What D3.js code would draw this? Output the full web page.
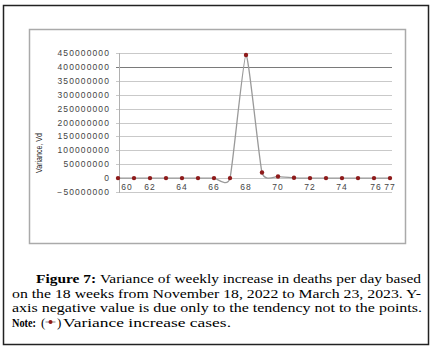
<!DOCTYPE html>
<html lang="en">
<head>
<meta charset="UTF-8">
<script src="https://d3js.org/d3.v7.min.js"></script>
<style>
    body { margin: 0; background: #fff; }
    svg { display: block; }
    .cap { font-family: "Liberation Serif", "Times New Roman", serif; font-size: 13px; fill: #000; }
    .tick { font-family: "Liberation Sans", Arial, sans-serif; font-size: 8.5px; fill: #444; }
</style>
</head>
<body>
<div id="chart"></div>
<script>
// data: week number and variance of weekly increase
var weeks = [60, 61, 62, 63, 64, 65, 66, 67, 68, 69, 70, 71, 72, 73, 74, 75, 76, 77];
var variance = [0, 0, 0, 0, 0, 0, 0, 0, 443000000, 20000000, 6000000, 1000000, 0, 0, 0, 0, 0, 0];
var xTicks = [60, 62, 64, 66, 68, 70, 72, 74, 76, 77];
var yTicks = [-50000000, 0, 50000000, 100000000, 150000000, 200000000, 250000000, 300000000, 350000000, 400000000, 450000000];

var W = 436, H = 353;
var svg = d3.select("#chart").append("svg")
    .attr("width", W)
    .attr("height", H);

// outer frame + inner chart frame
svg.append("rect")
    .attr("x", 3.5).attr("y", 5.5).attr("width", 425).attr("height", 339)
    .attr("fill", "none").attr("stroke", "#222").attr("stroke-width", 1.5);
svg.append("rect")
    .attr("x", 29.5).attr("y", 29.5).attr("width", 376).attr("height", 214)
    .attr("fill", "none").attr("stroke", "#aaa").attr("stroke-width", 1.5);

var x = d3.scaleLinear().domain([60, 77]).range([118, 390]);
var y = d3.scaleLinear().domain([-50000000, 450000000]).range([192, 53]);

var g = svg.append("g");

// gridlines
g.selectAll("line.grid")
    .data(yTicks)
    .enter().append("line")
    .attr("class", "grid")
    .attr("x1", 116).attr("x2", 392)
    .attr("y1", function(d) { return Math.round(y(d)) + 0.5; })
    .attr("y2", function(d) { return Math.round(y(d)) + 0.5; })
    .attr("stroke", function(d) { return d === 400000000 ? "#7a7a7a" : "#c9c9c9"; })
    .attr("stroke-width", 1);

// y axis line
g.append("line")
    .attr("x1", 119.5).attr("x2", 119.5)
    .attr("y1", y(450000000)).attr("y2", y(-50000000) + 1)
    .attr("stroke", "#b0b0b0");

// y tick labels
g.selectAll("text.ytick")
    .data(yTicks)
    .enter().append("text")
    .attr("class", "tick")
    .attr("x", 110)
    .attr("y", function(d) { return y(d) + 3; })
    .attr("text-anchor", "end")
    .style("letter-spacing", "1.1px")
    .text(function(d) { return d3.format("d")(d); });

// x tick labels
g.selectAll("text.xtick")
    .data(xTicks)
    .enter().append("text")
    .attr("class", "tick")
    .attr("x", function(d) { return x(d) + (d === 60 ? 9 : d === 76 ? 2 : 0); })
    .attr("y", 190)
    .attr("text-anchor", "middle")
    .style("letter-spacing", "1px")
    .text(function(d) { return d; });

// y axis title
svg.append("text")
    .attr("transform", "translate(42,153) rotate(-90)")
    .attr("text-anchor", "middle")
    .attr("textLength", 40)
    .attr("lengthAdjust", "spacingAndGlyphs")
    .attr("font-family", "Liberation Sans Narrow, Arial Narrow, Liberation Sans, sans-serif")
    .attr("font-size", "9px")
    .attr("fill", "#222")
    .text("Variance, Vd");

// line + markers
var line = d3.line()
    .x(function(d, i) { return x(weeks[i]); })
    .y(function(d) { return y(d); })
    .curve(d3.curveCardinal.tension(0.5));

g.append("path")
    .datum(variance)
    .attr("d", line)
    .attr("fill", "none")
    .attr("stroke", "#9a9a9a")
    .attr("stroke-width", 1.3);

g.selectAll("circle.pt")
    .data(variance)
    .enter().append("circle")
    .attr("cx", function(d, i) { return x(weeks[i]); })
    .attr("cy", function(d) { return y(d); })
    .attr("r", 2.2)
    .attr("fill", "#8e1b1b");

// caption (the original is stretched sideways, so glyphs get stretched too)
var l1 = svg.append("text")
    .attr("class", "cap")
    .attr("x", 36).attr("y", 283)
    .attr("textLength", 385).attr("lengthAdjust", "spacingAndGlyphs");
l1.append("tspan").attr("font-weight", "bold").text("Figure 7: ");
l1.append("tspan").text("Variance of weekly increase in deaths per day based");

svg.append("text")
    .attr("class", "cap")
    .attr("x", 12).attr("y", 297.5)
    .attr("textLength", 409).attr("lengthAdjust", "spacingAndGlyphs")
    .text("on the 18 weeks from November 18, 2022 to March 23, 2023. Y-");

svg.append("text")
    .attr("class", "cap")
    .attr("x", 12).attr("y", 312)
    .attr("textLength", 410).attr("lengthAdjust", "spacingAndGlyphs")
    .text("axis negative value is due only to the tendency not to the points.");

svg.append("text")
    .attr("class", "cap")
    .attr("x", 12).attr("y", 326.5)
    .attr("font-weight", "bold")
    .attr("textLength", 24).attr("lengthAdjust", "spacingAndGlyphs")
    .text("Note:");
svg.append("text")
    .attr("class", "cap")
    .attr("x", 41).attr("y", 326.5)
    .text("(");
svg.append("line")
    .attr("x1", 45.5).attr("x2", 55.5).attr("y1", 322).attr("y2", 322)
    .attr("stroke", "#999").attr("stroke-width", 1.2);
svg.append("circle")
    .attr("cx", 50.5).attr("cy", 322).attr("r", 2)
    .attr("fill", "#8e1b1b");
svg.append("text")
    .attr("class", "cap")
    .attr("x", 57).attr("y", 326.5)
    .text(")");
svg.append("text")
    .attr("class", "cap")
    .attr("x", 63).attr("y", 326.5)
    .attr("textLength", 168).attr("lengthAdjust", "spacingAndGlyphs")
    .text("Variance increase cases.");
</script>
</body>
</html>
